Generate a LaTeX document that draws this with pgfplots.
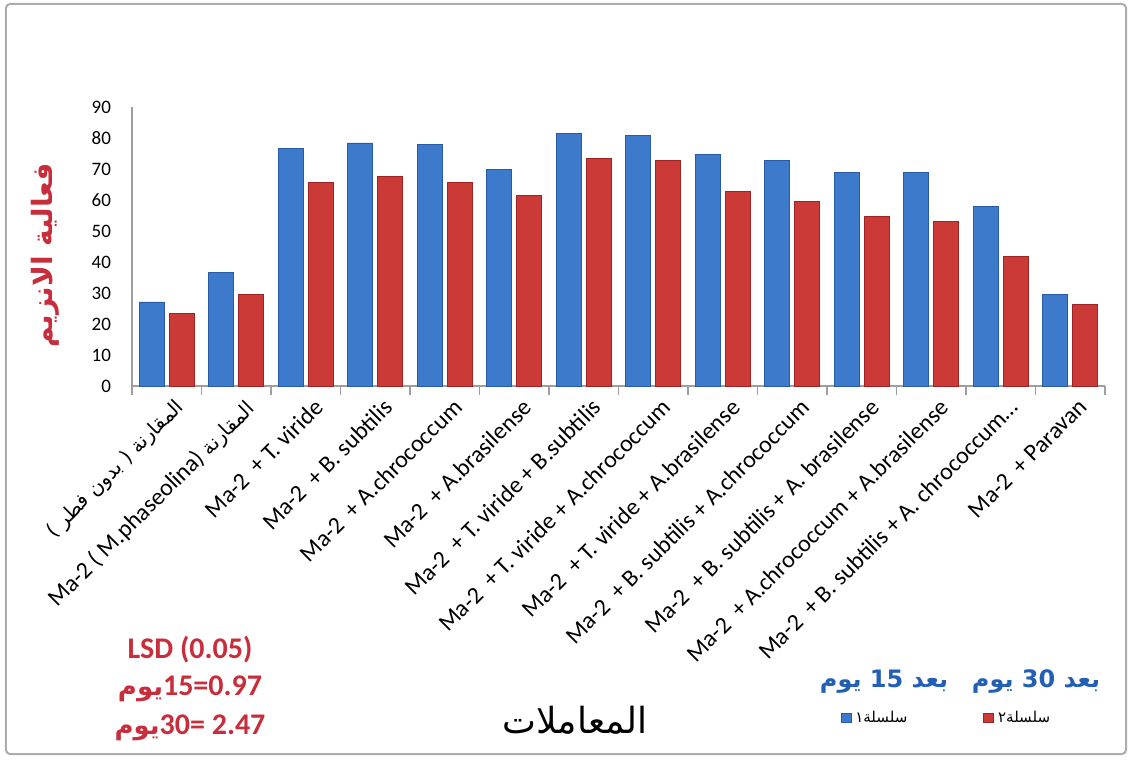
\documentclass[border=0pt]{standalone}
\usepackage{pgfplots}
\pgfplotsset{compat=1.18}
\usepackage{fontspec}
\setmainfont{Carlito}
\newfontfamily\arabicfont[Script=Arabic]{DejaVu Sans}
\TeXXeTstate=1
\definecolor{bluefill}{RGB}{62,122,203}
\definecolor{blueedge}{RGB}{40,90,165}
\definecolor{redfill}{RGB}{203,58,55}
\definecolor{rededge}{RGB}{160,35,35}
\definecolor{lsdred}{RGB}{200,45,60}
\definecolor{hdrblue}{RGB}{35,95,180}
\begin{document}
\begin{tikzpicture}
\useasboundingbox (-66pt,-187pt) rectangle (499.5pt,193pt);
\draw[gray!65, line width=1pt, rounded corners=2pt] (-63pt,-184pt) rectangle (497pt,191pt);
\begin{axis}[
  at={(0pt,0pt)}, anchor=south west,
  scale only axis, width=486.5pt, height=139.5pt,
  xmin=-0.5, xmax=13.5, ymin=0, ymax=90,
  enlargelimits=false, clip=false,
  axis x line*=bottom, axis y line*=left,
  axis line style={gray!75, line width=0.6pt},
  ybar=2.5pt, bar width=0.36,
  ytick={0,10,...,90},
  ytick style={draw=none},
  /pgf/number format/assume math mode=true,
  y tick label style={font=\fontsize{9.5}{10}\selectfont, xshift=-7pt},
  xtick={0,...,13},
  major tick length=0pt,
  extra x ticks={-0.5,0.5,...,13.5},
  extra x tick labels={},
  extra x tick style={major tick length=4.5pt, tick align=outside, tick style={gray!75, line width=0.6pt}},
  xticklabels={
    {\arabicfont\fontsize{10}{12}\selectfont\beginR المقارنة ( بدون فطر )\endR},
    {Ma-2 ( M.phaseolina) {\arabicfont\fontsize{10}{12}\selectfont\beginR المقارنة\endR}},
    {Ma-2~ + T. viride},
    {Ma-2~ + B. subtilis},
    {Ma-2~ + A.chrococcum},
    {Ma-2~ + A.brasilense},
    {Ma-2~ + T. viride + B.subtilis},
    {Ma-2~ + T. viride + A.chrococcum},
    {Ma-2~ + T. viride + A.brasilense},
    {Ma-2~ + B. subtilis + A.chrococcum},
    {Ma-2~ + B. subtilis + A. brasilense},
    {Ma-2~ + A.chrococcum + A.brasilense},
    {Ma-2~ + B. subtilis + A. chrococcum…},
    {Ma-2~ + Paravan}},
  x tick label style={font=\fontsize{12}{13}\selectfont, rotate=45, anchor=north east, yshift=-3pt, xshift=2pt},
  legend columns=2,
  legend style={at={(rel axis cs:0.838,-1.19)}, anchor=center, draw=none, fill=none,
    font=\arabicfont\fontsize{7.5}{8}\selectfont,
    /tikz/every even column/.append style={column sep=36pt}},
  legend image code/.code={\draw[#1] (0pt,-2.3pt) rectangle (5pt,2.3pt);},
]
\addplot[draw=blueedge, fill=bluefill]
 coordinates {(0,27.1) (1,36.6) (2,76.6) (3,78.4) (4,77.9) (5,69.9) (6,81.4) (7,80.9) (8,74.7) (9,72.8) (10,68.8) (11,68.8) (12,58.0) (13,29.5)};
\addlegendentry{\beginR سلسلة١\endR}
\addplot[draw=rededge, fill=redfill]
 coordinates {(0,23.5) (1,29.5) (2,65.8) (3,67.6) (4,65.8) (5,61.5) (6,73.5) (7,72.8) (8,62.9) (9,59.4) (10,54.8) (11,53.2) (12,41.9) (13,26.4)};
\addlegendentry{\beginR سلسلة٢\endR}
\end{axis}
\node[rotate=90, text=lsdred, font=\arabicfont\bfseries\fontsize{14}{16}\selectfont] at (-43.5pt,65.5pt) {\beginR فعالية الانزيم\endR};
\node[text=lsdred, font=\bfseries\fontsize{15}{18}\selectfont] at (29pt,-132pt) {LSD (0.05)};
\node[text=lsdred, font=\bfseries\fontsize{15}{18}\selectfont] at (29pt,-151.5pt) {{\arabicfont\fontsize{13}{15}\selectfont\beginR يوم\endR}15=0.97};
\node[text=lsdred, font=\bfseries\fontsize{15}{18}\selectfont] at (29pt,-171pt) {{\arabicfont\fontsize{13}{15}\selectfont\beginR يوم\endR}30= 2.47};
\node[font=\arabicfont\fontsize{18}{20}\selectfont] at (221.5pt,-167pt) {\beginR المعاملات\endR};
\node[text=hdrblue, font=\arabicfont\bfseries\fontsize{12}{14}\selectfont] at (376pt,-148pt) {\beginR بعد \beginL 15\endL{} يوم\endR};
\node[text=hdrblue, font=\arabicfont\bfseries\fontsize{12}{14}\selectfont] at (452pt,-148pt) {\beginR بعد \beginL 30\endL{} يوم\endR};
\end{tikzpicture}
\end{document}
